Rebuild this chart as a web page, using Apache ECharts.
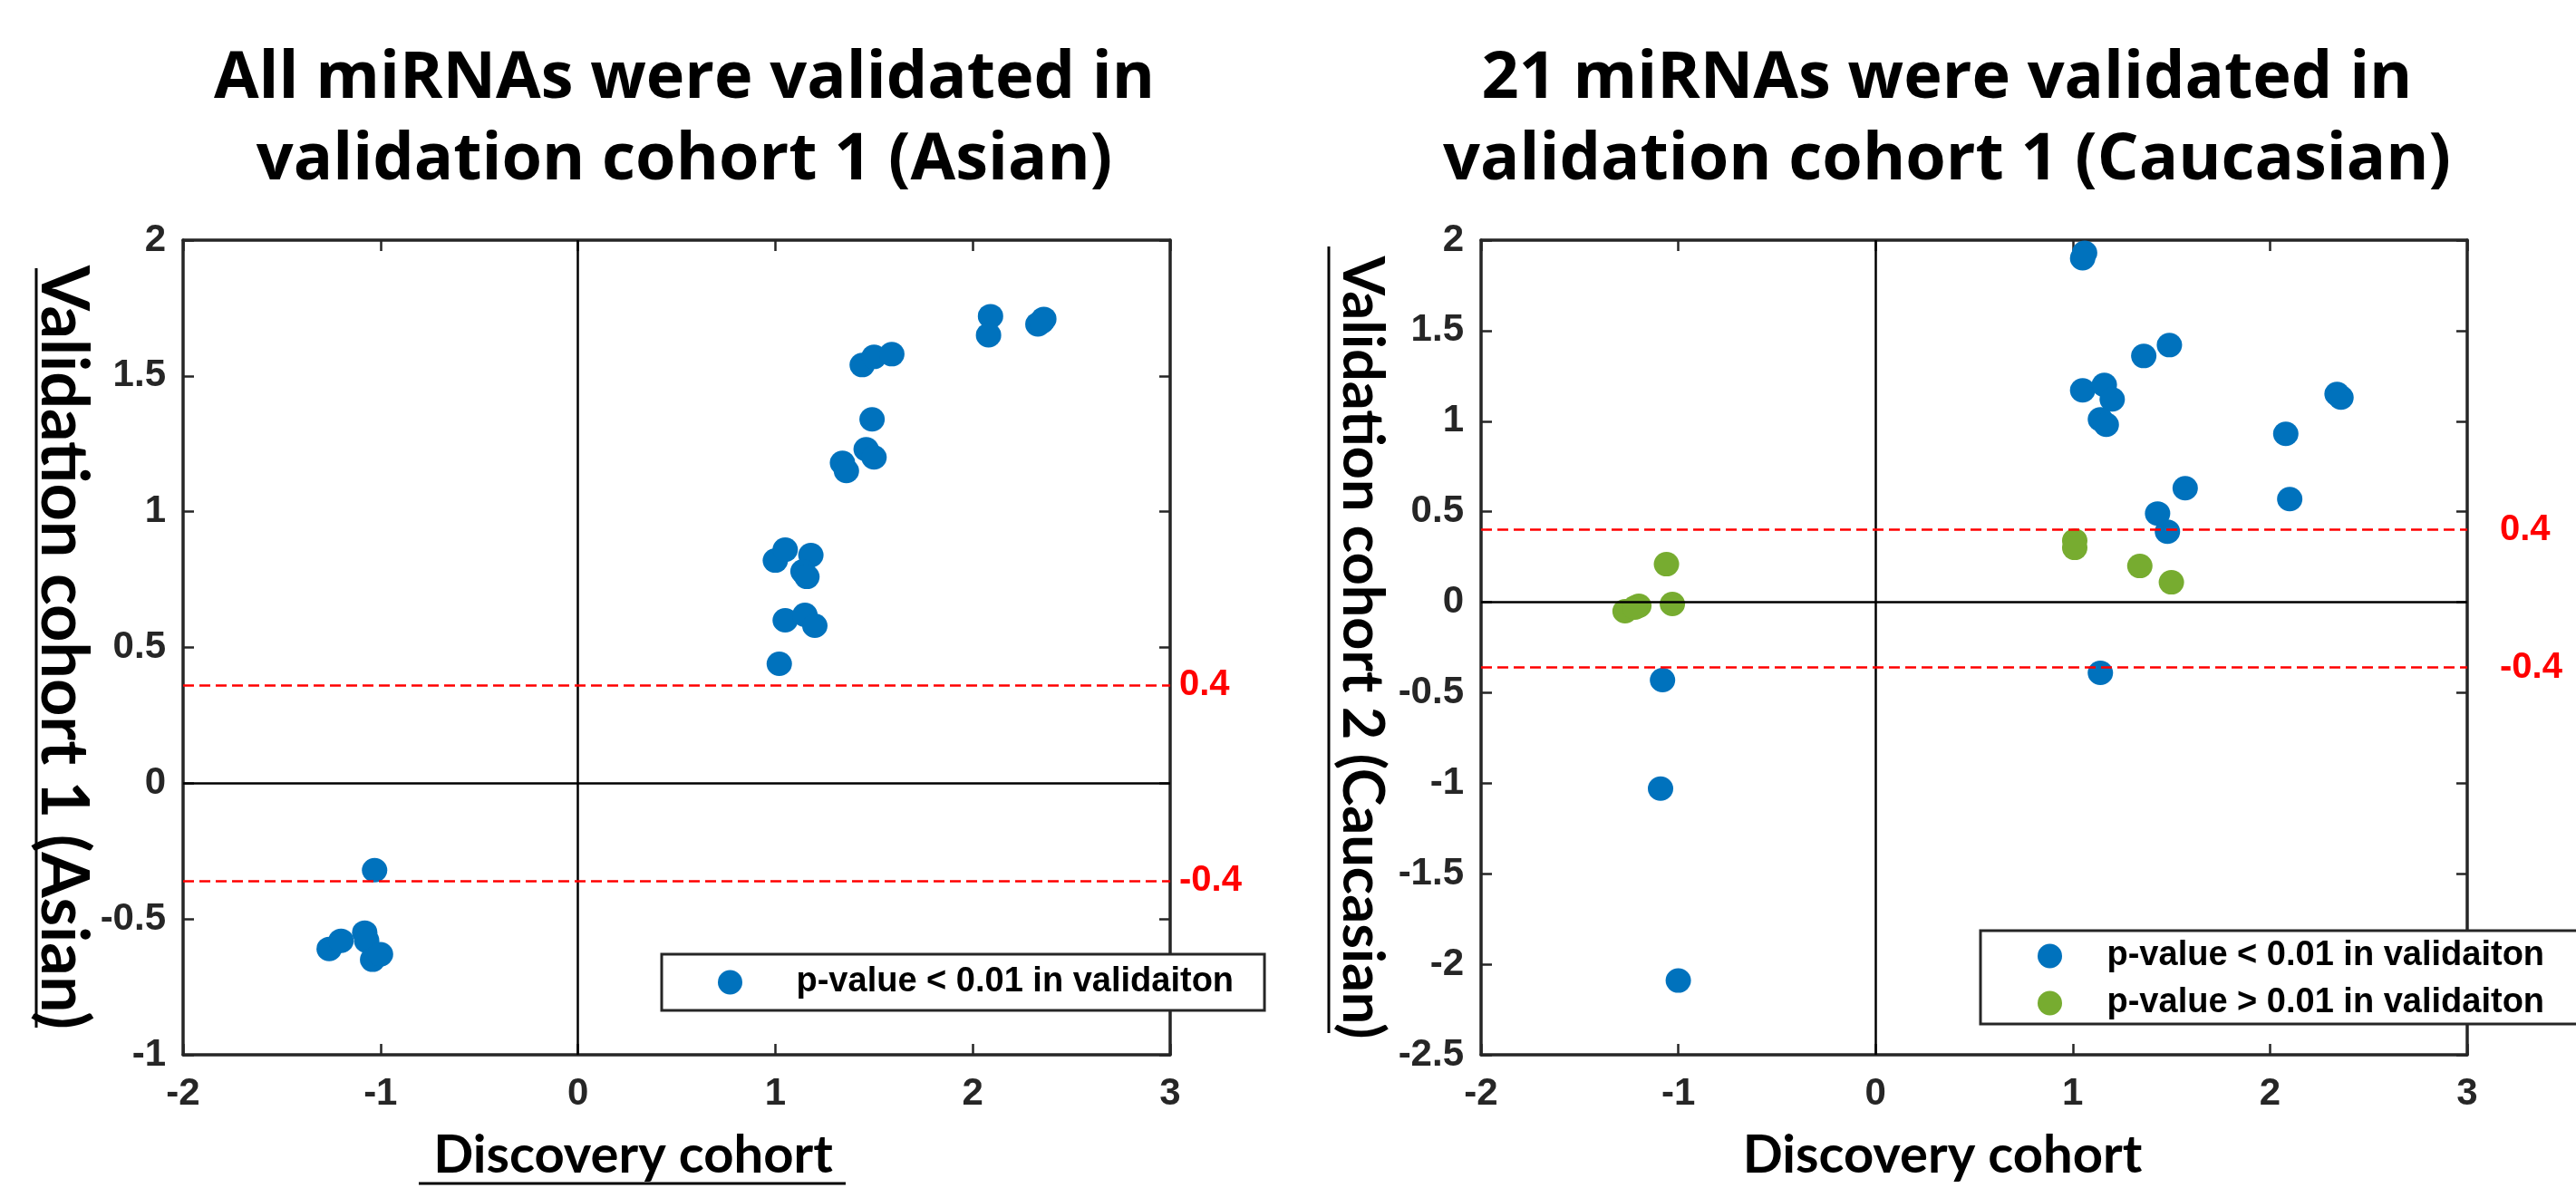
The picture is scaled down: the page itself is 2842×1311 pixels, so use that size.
<!DOCTYPE html>
<html>
<head>
<meta charset="utf-8">
<title>miRNA validation scatter</title>
<script src="https://cdn.jsdelivr.net/npm/echarts@6/dist/echarts.min.js"></script>
<style>
  html, body { margin: 0; padding: 0; background: #fff; }
  #chart { width: 2842px; height: 1311px; }
</style>
</head>
<body>
<div id="chart"></div>
<script>
// ---- data ----
const titleLeft = ['All miRNAs were validated in', 'validation cohort 1 (Asian)']
const titleRight = ['21 miRNAs were validated in', 'validation cohort 1 (Caucasian)']
const xName = 'Discovery cohort'
const yNameLeft = 'Validation cohort 1 (Asian)'
const yNameRight = 'Validation cohort 2 (Caucasian)'
const sigName = 'p-value < 0.01 in validaiton'
const nsName = 'p-value > 0.01 in validaiton'

// left panel: discovery vs validation cohort 1
const leftDisc = [2.09, 2.08, 2.33, 2.36, 2.35, 1.44, 1.50, 1.59, 1.49, 1.46, 1.50, 1.34, 1.36,
  1.00, 1.05, 1.18, 1.14, 1.16, 1.05, 1.15, 1.20, 1.02,
  -1.03, -1.26, -1.20, -1.08, -1.07, -1.04, -1.00]
const leftVal = [1.72, 1.65, 1.69, 1.71, 1.70, 1.54, 1.57, 1.58, 1.34, 1.23, 1.20, 1.18, 1.15,
  0.82, 0.86, 0.84, 0.78, 0.76, 0.60, 0.62, 0.58, 0.44,
  -0.32, -0.61, -0.58, -0.55, -0.58, -0.65, -0.63]

// right panel: discovery vs validation cohort 2
const rightSigDisc = [1.06, 1.05, 1.49, 1.36, 1.05, 1.16, 1.20, 1.14, 1.17, 2.34, 2.36, 2.08, 2.10,
  1.57, 1.43, 1.48, 1.14, -1.08, -1.09, -1.00]
const rightSigVal = [1.93, 1.90, 1.42, 1.36, 1.17, 1.20, 1.12, 1.01, 0.98, 1.15, 1.13, 0.93, 0.57,
  0.63, 0.49, 0.39, -0.39, -0.43, -1.03, -2.09]
const rightNsDisc = [1.01, 1.01, 1.34, 1.50, -1.06, -1.03, -1.20, -1.27, -1.22]
const rightNsVal = [0.34, 0.30, 0.20, 0.11, 0.21, -0.01, -0.02, -0.05, -0.03]

// dashed cut-off lines and their labels
const cutLeft = [0.36, -0.36]
const cutRight = [0.40, -0.36]
const cutLabels = ['0.4', '-0.4']

const xTicks = { min: -2, max: 3, interval: 1 }
const yTicksLeft = { min: -1, max: 2, interval: 0.5 }
const yTicksRight = { min: -2.5, max: 2, interval: 0.5 }

// ---- styles ----
const BLUE = '#0072BD'
const GREEN = '#77AC30'
const INK = '#262626'
const tickFont = { fontSize: 42, fontWeight: 'bold', fontFamily: 'Liberation Sans, Arial, sans-serif', color: INK }
const nameFont = { fontSize: 58, fontWeight: 'bold', fontFamily: 'Lato, sans-serif', color: '#000' }

const zip = (xs, ys) => xs.map((x, i) => [x, ys[i]])

const chart = echarts.init(document.getElementById('chart'))

const grids = [
  { left: 202, top: 265, width: 1089, height: 899 },
  { left: 1634, top: 265, width: 1088, height: 899 }
]

const boxLine = { onZero: false, lineStyle: { color: INK, width: 3.5 } }
const inTicks = { inside: true, length: 12, lineStyle: { color: INK, width: 2.5 } }

const mainX = (gi, pad) => ({
  type: 'value', gridIndex: gi, ...xTicks, position: 'bottom',
  name: xName, nameLocation: 'middle', nameGap: 82,
  nameTextStyle: { ...nameFont, padding: pad },
  axisLine: boxLine, axisTick: inTicks,
  axisLabel: { ...tickFont, margin: 22 },
  splitLine: { show: false }
})
const mirrorX = gi => ({
  type: 'value', gridIndex: gi, ...xTicks, position: 'top',
  axisLine: boxLine, axisTick: inTicks,
  axisLabel: { show: false }, splitLine: { show: false }
})
const mainY = (gi, ticks, name, gap, size) => ({
  type: 'value', gridIndex: gi, ...ticks, position: 'left',
  name: name, nameLocation: 'middle', nameRotate: -90, nameGap: gap,
  nameTextStyle: { ...nameFont, fontSize: size },
  axisLine: boxLine, axisTick: inTicks,
  axisLabel: { ...tickFont, margin: 19 },
  splitLine: { show: false }
})
const mirrorY = (gi, ticks) => ({
  type: 'value', gridIndex: gi, ...ticks, position: 'right',
  axisLine: boxLine, axisTick: inTicks,
  axisLabel: { show: false }, splitLine: { show: false }
})

// zero cross + red dashed cut-offs
const refLines = (cuts, labelDist) => ({
  silent: true, symbol: ['none', 'none'], animation: false,
  data: [
    { xAxis: 0, lineStyle: { color: '#000', width: 2.5, type: 'solid' }, label: { show: false } },
    { yAxis: 0, lineStyle: { color: '#000', width: 2.5, type: 'solid' }, label: { show: false } },
    ...cuts.map((c, i) => ({
      yAxis: c,
      lineStyle: { color: '#FF0000', width: 2.5, type: [12, 6] },
      label: {
        show: true, position: 'end', distance: labelDist, formatter: cutLabels[i],
        fontSize: 40, fontWeight: 'bold', fontFamily: 'Liberation Sans, Arial, sans-serif', color: '#FF0000'
      }
    }))
  ]
})

const dot = [28, 27]

const titleText = (x, y, text) => ({
  type: 'text', x: x, y: y, silent: true,
  style: { text: text, align: 'center', verticalAlign: 'middle', fontSize: 72, fontWeight: 'bold',
    fontFamily: '"Open Sans", sans-serif', fill: '#000' }
})
const rule = (x1, y1, x2, y2) => ({
  type: 'line', silent: true, shape: { x1, y1, x2, y2 }, style: { stroke: '#000', lineWidth: 3 }
})

const legendBase = {
  orient: 'vertical', icon: 'circle', itemWidth: 28, itemHeight: 27,
  borderColor: INK, borderWidth: 3, backgroundColor: '#fff', borderRadius: 0,
  selectedMode: false
}
const legendText = { fontSize: 38, fontWeight: 'bold', fontFamily: 'Liberation Sans, Arial, sans-serif', color: '#000' }

chart.setOption({
  animation: false,
  backgroundColor: '#fff',
  grid: grids,
  xAxis: [mainX(0, [0, 96, 0, 0]), mirrorX(0), mainX(1, [0, 70, 0, 0]), mirrorX(1)],
  yAxis: [mainY(0, yTicksLeft, yNameLeft, 97, 72), mirrorY(0, yTicksLeft),
    mainY(1, yTicksRight, yNameRight, 100, 63), mirrorY(1, yTicksRight)],
  legend: [
    { ...legendBase, left: 730, top: 1053, data: [sigName], padding: [12, 34, 12, 62],
      textStyle: { ...legendText, padding: [0, 0, 0, 54] } },
    { ...legendBase, left: 2185, top: 1027, data: [sigName, nsName], itemGap: 14, padding: [9, 60, 4, 63],
      textStyle: { ...legendText, padding: [0, 0, 0, 44] } }
  ],
  series: [
    { name: sigName, type: 'scatter', xAxisIndex: 0, yAxisIndex: 0, symbolSize: dot,
      itemStyle: { color: BLUE, opacity: 1 }, data: zip(leftDisc, leftVal), z: 3,
      markLine: refLines(cutLeft, 10) },
    { name: sigName, type: 'scatter', xAxisIndex: 2, yAxisIndex: 2, symbolSize: dot,
      itemStyle: { color: BLUE, opacity: 1 }, data: zip(rightSigDisc, rightSigVal), z: 3,
      markLine: refLines(cutRight, 36) },
    { name: nsName, type: 'scatter', xAxisIndex: 2, yAxisIndex: 2, symbolSize: dot,
      itemStyle: { color: GREEN, opacity: 1 }, data: zip(rightNsDisc, rightNsVal), z: 3 }
  ],
  graphic: [
    titleText(755, 87, titleLeft[0]),
    titleText(755, 177, titleLeft[1]),
    titleText(2148, 87, titleRight[0]),
    titleText(2148, 177, titleRight[1]),
    // underlines
    rule(462, 1306, 933, 1306),
    rule(40, 296, 40, 1134),
    rule(1466, 272, 1466, 1140)
  ]
})

window.addEventListener('resize', () => chart.resize())
</script>
</body>
</html>
